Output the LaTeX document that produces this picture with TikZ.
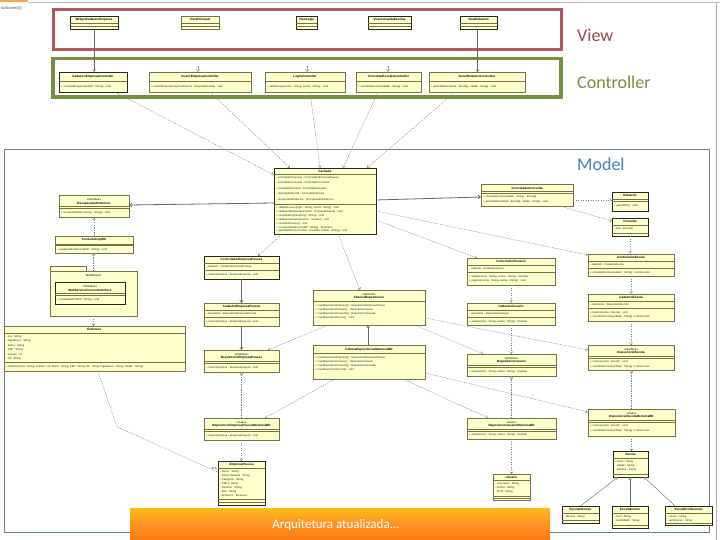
\documentclass[tikz,border=0pt]{standalone}
\usepackage{fontspec}
\setmainfont{Liberation Sans}
\newfontfamily\lblfont{Carlito}
\usetikzlibrary{arrows.meta,fit}
\definecolor{clsfill}{HTML}{FFFFCC}
\definecolor{clsline}{HTML}{7A7048}
\definecolor{viewc}{HTML}{B4585C}
\definecolor{ctrlc}{HTML}{76913E}
\definecolor{modelc}{HTML}{6C7F93}
\definecolor{modeltxt}{HTML}{4A7EBB}
\definecolor{connc}{HTML}{808080}
\tikzset{
  clsbox/.style={draw=clsline, fill=clsfill, line width=0.45pt, inner sep=0pt, outer sep=0pt},
  clsboxb/.style={draw=black!85, fill=clsfill, line width=0.9pt, inner sep=0pt, outer sep=0pt},
  sepl/.style={draw=clsline, line width=0.4pt},
  hd/.style={font=\fontsize{3.1}{3.5}\selectfont\bfseries, inner sep=0pt, anchor=center},
  st/.style={font=\fontsize{2.9}{3.3}\selectfont, inner sep=0pt, anchor=center},
  mb/.style={font=\fontsize{2.7}{3.1}\selectfont, inner sep=0pt, anchor=west, text=black!85},
  dep/.style={draw=connc, line width=0.4pt, dash pattern=on 1.4pt off 1.1pt, -{Straight Barb[length=2.2pt,width=3.2pt]}},
  depn/.style={draw=connc, line width=0.4pt, dash pattern=on 1.4pt off 1.1pt},
  assoc/.style={draw=black!60, line width=0.6pt, -{Straight Barb[length=2.2pt,width=3.2pt]}},
  real/.style={draw=connc, line width=0.4pt, dash pattern=on 1.4pt off 1.1pt, -{Triangle[open,length=2.6pt,width=3.2pt,fill=white]}},
  gen/.style={draw=black!60, line width=0.6pt, -{Triangle[open,length=2.6pt,width=3.2pt,fill=white]}},
  bigl/.style={font=\lblfont\fontsize{18}{20}\selectfont, inner sep=0pt, anchor=base west}
}
\newcommand\ubox[7]{%
  \node[#1, fit={(#3,#4)(#5,#6)}] (#2) {};
  \foreach \s in {#7}{\draw[sepl] (#3,\s) -- (#5,\s);}
}
\newcommand\hdr[3]{\node[hd] at (#1,#2) {#3};}
\newcommand\ste[3]{\node[st] at (#1,#2) {#3};}
\newcommand\mem[3]{\node[mb] at (#1,#2) {#3};}
\begin{document}
\begin{tikzpicture}[x=1pt,y=-1pt]
\useasboundingbox (0,0) rectangle (720,540);
\fill[white] (0,0) rectangle (720,540);
% top-left fragments
\fill[orange!70] (0,0) rectangle (28,2.5);
\draw[black!25, line width=0.5pt] (28,2.5) -- (720,2.5);
\node[font=\fontsize{4}{5}\selectfont, inner sep=0pt, anchor=west, text=black!70] (tl) at (1,8) {naNomeA()};
\draw[black!30, line width=0.6pt] (716,3) -- (716,540);

% frames
\draw[viewc, line width=3pt] (53,9.5) rectangle (561,49.5);
\draw[ctrlc, line width=3.2pt] (53,58.5) rectangle (561,97);
\draw[modelc, line width=0.8pt] (4,149) rectangle (709,532);
\node[bigl, text=viewc!85!black] (lview) at (577,42) {View};
\node[bigl, text=ctrlc] (lctrl) at (577,88.5) {Controller};
\node[bigl, text=modeltxt] (lmodel) at (577,171) {Model};

% ---------- View classes
\ubox{clsboxb}{v1}{70}{16}{118}{29}{23,26}\hdr{94}{19.5}{WidgetCadastroEmpresa}
\ubox{clsbox}{v2}{181}{16}{219}{29}{23,26}\hdr{200}{19.5}{ViewPrincipal}
\ubox{clsboxb}{v3}{296}{16}{317}{29}{23,26}\hdr{306.5}{19.5}{ViewLogin}
\ubox{clsboxb}{v4}{368}{16}{411}{29}{23,26}\hdr{389.5}{19.5}{ViewConsultaEscolas}
\ubox{clsboxb}{v5}{460}{16}{497}{29}{23,26}\hdr{478.5}{19.5}{ViewRelatorio}

% ---------- Controller classes
\ubox{clsboxb}{c1}{59}{72}{127}{92}{81.5}\hdr{93}{76.5}{CadastroEmpresaController}
\mem{61}{87}{+ consultarEmpresa(CNPJ : String) : void}
\ubox{clsbox}{c2}{149}{72}{251}{92}{81.5}\hdr{200}{76.5}{InserirEmpresaController}
\mem{151}{87}{+ inserirEmpresa(empresaPessoa : EmpresaPessoa) : void}
\ubox{clsbox}{c3}{265}{72}{345}{92}{81.5}\hdr{305}{76.5}{LoginController}
\mem{267}{87}{+ validarLogin(nome : String, senha : String) : void}
\ubox{clsbox}{c4}{356}{72}{421}{92}{81.5}\hdr{388.5}{76.5}{ConsultarEscolasController}
\mem{358}{87}{+ consultarEscolas(cidade : String) : void}
\ubox{clsbox}{c5}{429}{72}{525}{92}{81.5}\hdr{477}{76.5}{GerarRelatorioController}
\mem{431}{87}{+ gerarRelatorio(lista : Escola[], cidade : String) : void}

% ---------- Fachada
\ubox{clsboxb}{fach}{274}{168}{376}{234}{174.5,204}\hdr{325}{171.3}{Fachada}
\mem{276}{177.5}{- controladorEmpresa : ControladorEmpresaPessoa}
\mem{276}{183}{- controladorConsulta : ControladorConsulta}
\mem{276}{188.5}{- controladorUsuario : ControladorUsuario}
\mem{276}{194}{- controladorEscola : ControladorEscola}
\mem{276}{199.5}{- recuperadorEndereco : RecuperadorEndereco}
\mem{276}{207.5}{+ validarUsuario(login : String, senha : String) : void}
\mem{276}{211.5}{+ cadastrarEmpresa(empresa : EmpresaPessoa) : void}
\mem{276}{215.5}{+ consultarEmpresa(cnpj : String) : void}
\mem{276}{219.5}{+ cadastrarUsuario(usuario : Usuario) : void}
\mem{276}{223.5}{+ consultarCursos() : void}
\mem{276}{227.5}{+ recuperarEndereco(CEP : String) : Endereco}
\mem{276}{231.3}{+ gerarRelatorio(consulta : Consulta, cidade : String) : void}

% ---------- left column
\ubox{clsbox}{recup}{59}{195}{129}{217}{206.5,208}
\ste{94}{199}{«interface»}\hdr{94}{203.2}{RecuperadorEndereco}
\mem{61}{212.5}{+ recuperarEndereco(cep : String) : void}
\ubox{clsbox}{cep}{55}{236}{133}{253}{244,245.5}\hdr{94}{240}{ConsultaCepWS}
\mem{57}{249.5}{+ pesquisarEndereco(CEP : String) : void}
% package
\draw[clsline, fill=clsfill, line width=0.45pt] (50,266) rectangle (86,271);
\ubox{clsbox}{pkg}{50}{271}{137}{316}{271}\node[st] at (93.5,275.5) {WebService};
\ubox{clsboxb}{ws}{55}{282}{125}{304}{293.5,295}
\ste{90}{286}{«interface»}\hdr{90}{290.2}{WebServiceCorreiosInterface}
\mem{57}{299.5}{+ consultaCEP(CEP : String) : void}
% Endereco
\ubox{clsbox}{ende}{4}{326}{185}{371}{333,362}\hdr{94.5}{329.6}{Endereco}
\mem{6}{336.5}{- rua : String}
\mem{6}{341}{- logradouro : String}
\mem{6}{345.5}{- bairro : String}
\mem{6}{350}{- CEP : String}
\mem{6}{354.5}{- numero : int}
\mem{6}{359}{- UF : String}
\mem{6}{366.5}{+ Endereco(rua : String, numero : int, bairro : String, CEP : String, UF : String, logradouro : String, cidade : String)}

% ---------- middle column
\ubox{clsboxb}{A}{204}{256}{279}{279}{263.5,270.5}\hdr{241.5}{259.8}{ControladorEmpresaPessoa}
\mem{206}{267}{- cadastro : CadastroEmpresaPessoa}
\mem{206}{275}{+ inserir(empresa : EmpresaPessoa) : void}
\ubox{clsbox}{B}{204}{303}{279}{326}{310.5,317.5}\hdr{241.5}{306.8}{CadastroEmpresaPessoa}
\mem{206}{314}{- repositorio : RepositorioEmpresaPessoa}
\mem{206}{322}{+ inserir(empresa : EmpresaPessoa) : void}
\ubox{clsbox}{C}{204}{350}{279}{372}{361.5,363}
\ste{241.5}{354}{«interface»}\hdr{241.5}{358}{RepositorioEmpresaPessoa}
\mem{206}{367.5}{+ inserir(empresa : EmpresaPessoa) : void}
\ubox{clsbox}{D}{204}{418}{279}{440}{429.5,431}
\ste{241.5}{422}{«class»}\hdr{241.5}{426}{RepositorioEmpresaPessoaMemoriaBD}
\mem{206}{435.5}{+ inserir(empresa : EmpresaPessoa) : void}
\ubox{clsboxb}{emp}{218}{461}{265}{505}{468,499,502}\hdr{241.5}{464.6}{EmpresaPessoa}
\mem{220}{471.5}{- Nome : String}
\mem{220}{475.5}{- Nome Fantasia : String}
\mem{220}{479.5}{- Categoria : String}
\mem{220}{483.5}{- CNPJ : String}
\mem{220}{487.5}{- Telefone : String}
\mem{220}{491.5}{- Site : String}
\mem{220}{495.5}{- Endereco : Endereco}

\ubox{clsbox}{E}{313}{290}{425}{325}{301.5}
\ste{369}{294}{«abstract»}\hdr{369}{298}{FabricaRepositorios}
\mem{315}{305.5}{+ criarRepositorioEmpresa() : RepositorioEmpresaPessoa}
\mem{315}{309.7}{+ criarRepositorioUsuario() : RepositorioUsuario}
\mem{315}{313.9}{+ criarRepositorioConsulta() : RepositorioConsulta}
\mem{315}{318.1}{+ criarRepositorioEscola() : void}
\ubox{clsbox}{F}{313}{345}{425}{379}{353.5}\hdr{369}{349.5}{FabricaRepositoriosMemoriaBD}
\mem{315}{357.5}{+ criarRepositorioEmpresa() : RepositorioEmpresaPessoa}
\mem{315}{361.7}{+ criarRepositorioUsuario() : RepositorioUsuario}
\mem{315}{365.9}{+ criarRepositorioConsulta() : RepositorioConsulta}
\mem{315}{370.1}{+ criarRepositorioEscola() : void}

% ---------- right-middle column
\ubox{clsbox}{G}{467}{258}{555}{285}{265.5,272.5}\hdr{511}{261.8}{ControladorUsuario}
\mem{469}{269}{- cadastro : CadastroUsuario}
\mem{469}{276.5}{+ validar(nome : String, senha : String) : boolean}
\mem{469}{281}{+ registrar(nome : String, senha : String) : void}
\ubox{clsbox}{H}{467}{303}{555}{325}{310.5,317.5}\hdr{511}{306.8}{CadastroUsuario}
\mem{469}{314}{- repositorio : RepositorioUsuario}
\mem{469}{321.5}{+ existe(nome : String, senha : String) : boolean}
\ubox{clsbox}{I}{467}{354}{556}{376}{365.5,367}
\ste{511.5}{358}{«interface»}\hdr{511.5}{362}{RepositorioUsuario}
\mem{469}{371.5}{+ existe(nome : String, senha : String) : boolean}
\ubox{clsbox}{J}{467}{418}{556}{439}{429.5,431}
\ste{511.5}{422}{«class»}\hdr{511.5}{426}{RepositorioUsuarioMemoriaBD}
\mem{469}{435}{+ existe(nome : String, senha : String) : boolean}
\ubox{clsbox}{K}{493}{474}{530}{500}{480.5,496,498}\hdr{511.5}{477.5}{Usuario}
\mem{495}{484}{- Username : String}
\mem{495}{488}{- Senha : String}
\mem{495}{492}{- Perfil : String}

% ---------- right column
\ubox{clsbox}{L}{481}{184}{573}{206}{191.5,193}\hdr{527}{188}{ControladorConsulta}
\mem{483}{197}{+ consultarCursos(cidade : String) : Escola[]}
\mem{483}{201.5}{+ gerarRelatorio(lista : Escola[], cidade : String) : void}
\ubox{clsboxb}{M}{612}{192}{648}{211}{199.5,201}\hdr{630}{195.8}{Relatorio}
\mem{614}{205.5}{+ gerarPDF() : void}
\ubox{clsboxb}{N}{612}{218}{648}{236}{225.5,233}\hdr{630}{221.8}{Consulta}
\mem{614}{229.3}{- lista : Escola[]}
\ubox{clsbox}{O}{588}{254}{674}{276}{261.5,268.5}\hdr{631}{257.8}{ControladorEscola}
\mem{590}{265}{- cadastro : CadastroEscola}
\mem{590}{272.5}{+ consultarEscolas(cidade : String) : List<Escola>}
\ubox{clsbox}{P}{588}{294}{674}{321}{301.5,308.5}\hdr{631}{297.8}{CadastroEscola}
\mem{590}{305}{- repositorio : RepositorioEscola}
\mem{590}{312.5}{+ inserir(escola : Escola) : void}
\mem{590}{317}{+ consultarEscolas(cidade : String) : List<Escola>}
\ubox{clsbox}{Q}{588}{345}{674}{370}{356.5,358}
\ste{631}{349}{«interface»}\hdr{631}{353}{RepositorioEscola}
\mem{590}{362}{+ inserir(escola : Escola) : void}
\mem{590}{366.3}{+ consultarEscolas(cidade : String) : List<Escola>}
\ubox{clsbox}{R}{588}{409}{675}{436}{420.5,422}
\ste{631.5}{413}{«class»}\hdr{631.5}{417}{RepositorioEscolaMemoriaBD}
\mem{590}{426}{+ inserir(escola : Escola) : void}
\mem{590}{430.5}{+ consultarEscolas(cidade : String) : List<Escola>}
\ubox{clsboxb}{S}{613}{451}{648}{477}{458,474}\hdr{630.5}{454.6}{Escola}
\mem{615}{462}{- nome : String}
\mem{615}{466}{- cidade : String}
\mem{615}{470}{- telefone : String}
\ubox{clsboxb}{T}{562}{506}{599}{523}{513,520.5}\hdr{580.5}{509.6}{EscolaIdiomas}
\mem{564}{517}{- idiomas : String}
\ubox{clsboxb}{U}{612}{506}{648}{528}{513,525}\hdr{630}{509.6}{EscolaEnsino}
\mem{614}{517}{- nivel : String}
\mem{614}{521}{- modalidade : String}
\ubox{clsboxb}{V}{665}{506}{712}{525}{513,523.5}\hdr{688.5}{509.6}{EscolaProfissional}
\mem{667}{517}{- cursos : String}
\mem{667}{521}{- certificacao : String}

% ---------- connectors
\draw[assoc, line width=0.4pt] (v1.south) -- (v1.south |- c1.north);
\draw[assoc, line width=0.4pt] ([xshift=-1pt]v5.south) -- ([xshift=-1pt]v5.south |- c5.north);
\coordinate (s2) at (198,66.5);
\coordinate (s3) at (307,66.5);
\coordinate (s4) at (388,66.5);
\draw[dep] (s2) -- (s2 |- c2.north);
\draw[dep] (s3) -- (s3 |- c3.north);
\draw[dep] (s4) -- (s4 |- c4.north);

\draw[dep] ([xshift=56pt]c1.south west) -- ([yshift=-7pt]fach.north west);
\draw[dep] ([xshift=61pt]c2.south west) -- ([xshift=16pt]fach.north west);
\draw[dep] ([xshift=45pt]c3.south west) -- ([xshift=46pt]fach.north west);
\draw[dep] ([xshift=22pt]c4.south west) -- ([xshift=69pt]fach.north west);
\draw[dep] ([xshift=26pt]c5.south west) -- ([xshift=93pt]fach.north west);

\draw[assoc, line width=0.8pt] ([yshift=-35pt]fach.north west) -- ([yshift=-10pt]recup.north east);
\draw[real] (cep.north) -- (cep.north |- recup.south);
\draw[dep] (pkg.north) -- (pkg.north |- cep.south);
\draw[dep] (pkg.south) -- (pkg.south |- ende.north);
\coordinate (bend1) at (117,427);
\draw[depn] ([xshift=94pt]ende.south west) -- (bend1) -- ([yshift=-11pt]emp.north west);
\node[font=\fontsize{3}{3.5}\selectfont, inner sep=0pt, anchor=south east] (mult) at ([xshift=-1pt,yshift=-9pt]emp.north west) {0..1};

\draw[dep] ([xshift=8pt]fach.south west) -- ([xshift=54pt]A.north west);
\draw[assoc] (A.south) -- (A.south |- B.north);
\draw[assoc] (B.south) -- (B.south |- C.north);
\draw[real] (D.north) -- (D.north |- C.south);
\draw[dep] (D.south) -- (D.south |- emp.north);
\draw[dep] ([xshift=64pt]fach.south west) -- ([xshift=47pt]E.north west);
\draw[gen] ([xshift=55pt]F.north west) -- ([xshift=55pt]E.south west);
\draw[dep] ([xshift=15pt]E.south west) -- ([xshift=-11pt]C.north east);
\draw[dep] ([xshift=22pt]F.south west) -- ([xshift=-14pt]D.north east);
\draw[dep] ([xshift=-10pt]E.south east) -- ([xshift=16pt]I.north west);
\draw[dep] ([yshift=7pt]E.south east) -- ([yshift=-5pt]Q.north west);
\draw[dep] ([xshift=-22pt]F.south east) -- ([xshift=21pt]J.north west);
\draw[dep] ([yshift=6pt]F.south east) -- ([yshift=-3pt]R.north west);

\draw[dep] ([yshift=14pt]fach.south east) -- ([xshift=10pt]G.north west);
\draw[dep] ([yshift=23pt]fach.south east) -- ([yshift=-1pt]O.north west);
\draw[assoc, line width=0.8pt] ([yshift=-32pt]fach.north east) -- ([yshift=-13pt]L.north west);
\draw[dep] (G.south) -- (G.south |- H.north);
\draw[dep] (H.south) -- (H.south |- I.north);
\draw[real] (J.north) -- (J.north |- I.south);
\draw[dep] (J.south) -- (J.south |- K.north);

\draw[dep] ([yshift=-16pt]L.north east) -- ([yshift=-8pt]M.north west);
\draw[dep] ([xshift=-13pt]L.south east) -- ([yshift=-3pt]N.north west);
\draw[dep] (N.south) -- (N.south |- O.north);
\draw[dep] (O.south) -- (O.south |- P.north);
\draw[dep] (P.south) -- (P.south |- Q.north);
\draw[real] (R.north) -- (R.north |- Q.south);
\draw[dep] (R.south) -- (R.south |- S.north);
\draw[gen, line width=0.4pt] (T.north) -- ([xshift=5pt]S.south west);
\draw[gen, line width=0.4pt] (U.north) -- (U.north |- S.south);
\draw[gen, line width=0.4pt] ([xshift=10pt]V.north west) -- ([xshift=-4pt]S.south east);

% ---------- orange caption bar
\shade[top color=orange!60!yellow!90, bottom color=orange!90!red!95, middle color=orange!85] (130,508) rectangle (550,540);
\node[font=\lblfont\fontsize{13}{15}\selectfont, text=white, inner sep=0pt] (cap) at (336,525) {Arquitetura atualizada...};
\end{tikzpicture}
\end{document}
